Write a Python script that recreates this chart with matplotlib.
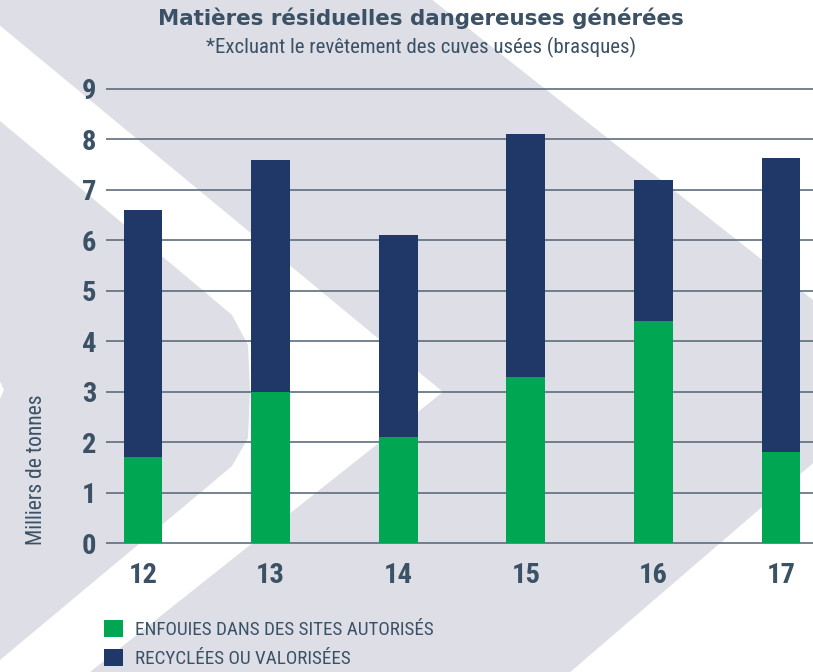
import matplotlib
matplotlib.use('Agg')
import matplotlib.pyplot as plt
from matplotlib import font_manager as fm
from matplotlib.patches import Polygon, Patch

# ---- data ----
years = ['12', '13', '14', '15', '16', '17']
enfouies = [1.7, 3.0, 2.1, 3.3, 4.4, 1.8]
recyclees = [4.9, 4.6, 4.0, 4.8, 2.8, 5.83]
yticks = [0, 1, 2, 3, 4, 5, 6, 7, 8, 9]
title = 'Matières résiduelles dangereuses générées'
subtitle = '*Excluant le revêtement des cuves usées (brasques)'
ylabel = 'Milliers de tonnes'
legend_labels = ['ENFOUIES DANS DES SITES AUTORISÉS', 'RECYCLÉES OU VALORISÉES']

# ---- style ----
GREEN = '#00A651'
NAVY = '#1F3867'
TEXT = '#3B5166'
GRID = '#5D6D7E'
BGGRAY = '#DDDEE6'

available = {f.name for f in fm.fontManager.ttflist}
def pick(cands, default='DejaVu Sans'):
    for c in cands:
        if c in available:
            return c
    return default

COND = pick(['Roboto Condensed', 'Liberation Sans Narrow', 'Open Sans Condensed', 'Arial Narrow'])
STRETCH = 'normal' if COND != 'DejaVu Sans' else 'condensed'
TITLEF = 'DejaVu Sans'

W, H = 813, 672
fig = plt.figure(figsize=(W / 100, H / 100), dpi=100)
fig.patch.set_facecolor('white')

# background chevrons (pixel coords)
bg = fig.add_axes([0, 0, 1, 1], zorder=0)
bg.set_xlim(0, W)
bg.set_ylim(H, 0)
bg.axis('off')
band2 = [(-37, -5), (426, -5), (912, 378), (561, 680), (80, 680), (443, 392)]
band1 = [(-10, 112), (0, 121), (200, 288), (232, 315), (248, 345), (250, 390),
         (248, 438), (232, 466), (200, 493), (0, 660), (-10, 668)]
notch = [(-2, 377), (4, 390), (-2, 403)]
bg.add_patch(Polygon(band2, closed=True, facecolor=BGGRAY, edgecolor='none'))
bg.add_patch(Polygon(band1, closed=True, facecolor=BGGRAY, edgecolor='none'))
bg.add_patch(Polygon(notch, closed=True, facecolor='white', edgecolor='none'))

# main axes: y=0 at px 543, y=9 at px 89 ; bar centers 143 + 127.6*i
ppu = (543 - 89) / 9.0
ylo, yhi = -0.1, 9.1
top_px = 89 - (yhi - 9) * ppu
bot_px = 543 + (0 - ylo) * ppu
left_px = 106
x0 = (left_px - 143) / 127.6
x1 = (W - 143) / 127.6
ax = fig.add_axes([left_px / W, 1 - bot_px / H, (W - left_px) / W, (bot_px - top_px) / H], zorder=1)
ax.patch.set_alpha(0)
ax.set_xlim(x0, x1)
ax.set_ylim(ylo, yhi)

xs = list(range(len(years)))
bw = 0.305
ax.bar(xs, enfouies, width=bw, color=GREEN, zorder=3, label=legend_labels[0])
ax.bar(xs, recyclees, width=bw, bottom=enfouies, color=NAVY, zorder=3, label=legend_labels[1])

for yv in yticks:
    ax.axhline(yv, color=GRID, lw=1.2, zorder=1)

for s in ax.spines.values():
    s.set_visible(False)
ax.set_yticks(yticks)
ax.set_yticklabels([str(v) for v in yticks])
ax.set_xticks(xs)
ax.set_xticklabels(years)
ax.tick_params(axis='both', length=0, colors=TEXT)
ax.tick_params(axis='y', pad=7)
ax.tick_params(axis='x', pad=10)
for lab in ax.get_yticklabels() + ax.get_xticklabels():
    lab.set_fontfamily(COND)
    lab.set_fontstretch(STRETCH)
    lab.set_fontweight('bold')
    lab.set_fontsize(20.5)
    lab.set_color(TEXT)

# y label
fig.text(37 / W, 1 - 470 / H, ylabel, rotation=90, ha='center', va='center',
         fontsize=15.5, family=COND, stretch=STRETCH, color=TEXT)

# titles
fig.text(421 / W, 1 - 18 / H, title, ha='center', va='center', fontsize=15.4,
         family=TITLEF, weight='bold', color=TEXT)
fig.text(421 / W, 1 - 47 / H, subtitle, ha='center', va='center', fontsize=15,
         family=COND, stretch=STRETCH, color=TEXT)

# legend
handles = [Patch(facecolor=GREEN, edgecolor='none'), Patch(facecolor=NAVY, edgecolor='none')]
leg = fig.legend(handles, legend_labels, loc='upper left',
                 bbox_to_anchor=(104 / W, 1 - 620 / H), frameon=False,
                 prop=fm.FontProperties(family=COND, stretch=STRETCH, size=13.8),
                 handlelength=1.0, handleheight=1.0, handletextpad=0.6,
                 labelspacing=0.5, borderpad=0, borderaxespad=0)
for t in leg.get_texts():
    t.set_color(TEXT)

fig.savefig('out.png', dpi=100, facecolor='white')
